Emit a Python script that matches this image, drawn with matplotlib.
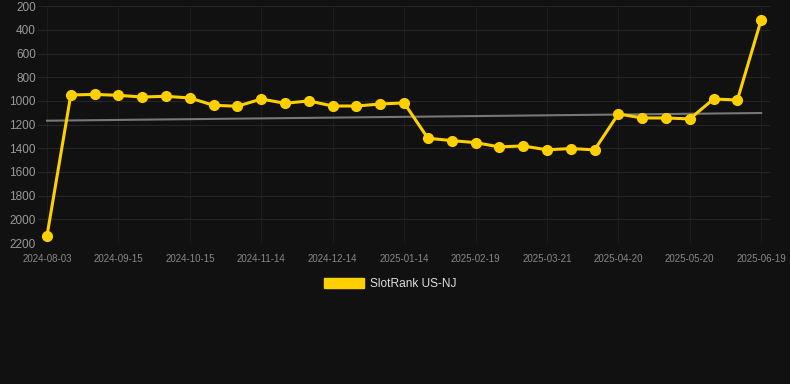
import matplotlib

matplotlib.use("Agg")
import matplotlib.pyplot as plt
import numpy as np
from matplotlib.patches import Patch

plt.rcParams["font.family"] = ["Liberation Sans", "DejaVu Sans"]

# ranks over time (lower is better, axis inverted)
ranks = [
    2140, 950, 945, 953, 967, 961, 975, 1037, 1045, 984, 1020,
    1000, 1043, 1043, 1026, 1017, 1315, 1335, 1352, 1388, 1380,
    1413, 1402, 1413, 1110, 1144, 1144, 1152, 984, 992, 315,
]
tick_labels = [
    "2024-08-03", "2024-09-15", "2024-10-15", "2024-11-14", "2024-12-14",
    "2025-01-14", "2025-02-19", "2025-03-21", "2025-04-20", "2025-05-20",
    "2025-06-19",
]
trend_ends = [1167, 1102]
series_name = "SlotRank US-NJ"

BG = "#111111"
GOLD = "#FFD000"

x = np.arange(len(ranks))
tick_pos = x[::3]

fig = plt.figure(figsize=(7.9, 3.84), dpi=100, facecolor=BG)
ax = fig.add_axes([0.048, 0.367, 0.927, 0.617])
ax.set_facecolor(BG)

ax.plot([x[0], x[-1]], trend_ends, color="#777777", linewidth=1.5, zorder=2)
ax.plot(x, ranks, color=GOLD, linewidth=2.2, marker="o", markersize=7,
        markerfacecolor=GOLD, markeredgecolor=GOLD, zorder=3)

ax.set_ylim(2200, 200)
ax.set_yticks(np.arange(200, 2201, 200))
ax.set_xlim(-0.38, len(ranks) - 1 + 0.38)
ax.set_xticks(tick_pos)
ax.set_xticklabels(tick_labels)

ax.grid(axis="y", color="#252525", linewidth=0.8)
ax.grid(axis="x", color="#1d1d1d", linewidth=0.8)
ax.set_axisbelow(True)
for spine in ax.spines.values():
    spine.set_visible(False)
ax.tick_params(axis="y", colors="#9a9a9a", labelsize=8.5, length=0, pad=1.5)
ax.tick_params(axis="x", colors="#888888", labelsize=7, length=0, pad=8)

handle = Patch(facecolor=GOLD, edgecolor=GOLD)
fig.legend([handle], [series_name], loc="center", bbox_to_anchor=(0.494, 0.26),
           frameon=False, fontsize=8.6, labelcolor="#dddddd",
           handlelength=3.4, handleheight=0.8, handletextpad=0.5)

fig.savefig("out.png", dpi=100, facecolor=BG)
plt.close(fig)
